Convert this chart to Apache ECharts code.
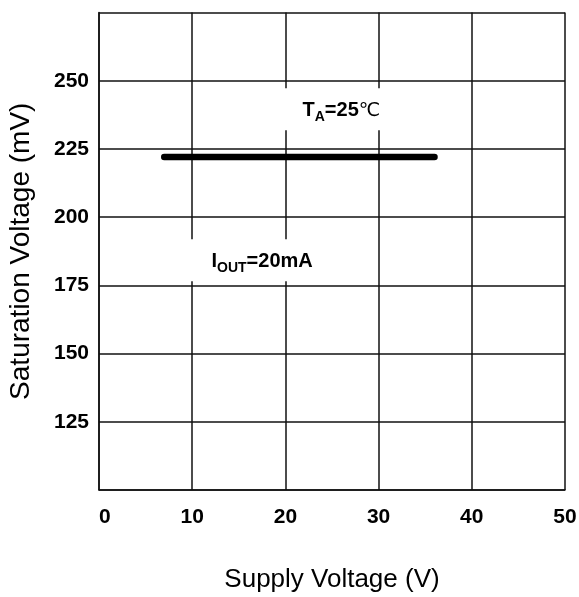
<!DOCTYPE html>
<html>
<head>
<meta charset="utf-8">
<script src="https://cdn.jsdelivr.net/npm/echarts@6/dist/echarts.min.js"></script>
<style>
  html, body { margin: 0; padding: 0; background: #fff; }
  #main { width: 579px; height: 597px; }
</style>
</head>
<body>
<div id="main"></div>
<script>
// saturation voltage vs supply voltage
var supplyV = [7, 36]
var satV = [222, 222]
// annotation anchors [x, y]
var taPos = [26.0, 239.5]
var ioutPos = [17.5, 184.2]
var yHidden = [100, 275]

var myChart = echarts.init(document.getElementById('main'))
var font = '"Liberation Sans", Arial, sans-serif'

var noteLabel = function (text) {
    return {
        show: true,
        position: 'inside',
        formatter: text,
        color: '#000',
        textBorderWidth: 0,
        backgroundColor: '#fff',
        padding: [12, 22, 10, 22],
        rich: {
            b: { fontFamily: font, fontWeight: 'bold', fontSize: 20, color: '#000', textBorderWidth: 0, verticalAlign: 'bottom' },
            s: { fontFamily: font, fontWeight: 'bold', fontSize: 14, color: '#000', textBorderWidth: 0, verticalAlign: 'bottom', padding: [0, 0, -4, 0] },
            c: { fontFamily: '"DejaVu Sans", sans-serif', fontSize: 19, color: '#000', textBorderWidth: 0, verticalAlign: 'bottom' }
        }
    }
}

myChart.setOption({
    animation: false,
    grid: { left: 99, right: 14, top: 12.5, bottom: 107, containLabel: false, outerBoundsMode: 'none' },
    xAxis: {
        type: 'value',
        min: 0, max: 50, interval: 10,
        name: 'Supply Voltage (V)',
        nameLocation: 'middle',
        nameGap: 77,
        nameTextStyle: { fontFamily: font, fontSize: 26, color: '#000' },
        axisLine: { show: true, onZero: false, lineStyle: { color: '#111', width: 1.5 } },
        axisTick: { show: false },
        axisLabel: {
            margin: 17, fontFamily: font, fontWeight: 'bold', fontSize: 21, color: '#000',
            alignMinLabel: 'left'
        },
        splitLine: { show: true, lineStyle: { color: '#111', width: 1.5 } }
    },
    yAxis: {
        type: 'value',
        min: 100, max: 275, interval: 25,
        name: 'Saturation Voltage (mV)',
        nameLocation: 'middle',
        nameGap: 64,
        nameTextStyle: { fontFamily: font, fontSize: 28, color: '#000' },
        axisLine: { show: true, lineStyle: { color: '#111', width: 1.5 } },
        axisTick: { show: false },
        axisLabel: {
            margin: 10, fontFamily: font, fontWeight: 'bold', fontSize: 21, color: '#000',
            formatter: function (v) { return yHidden.indexOf(v) >= 0 ? '' : String(v) }
        },
        splitLine: { show: true, lineStyle: { color: '#111', width: 1.5 } }
    },
    series: [
        {
            type: 'scatter',
            symbolSize: 0,
            silent: true,
            z: 5,
            itemStyle: { opacity: 1 },
            data: [
                { value: taPos, label: noteLabel('{b|T}{s|A}{b|=25}{c|℃}') },
                { value: ioutPos, label: noteLabel('{b|I}{s|OUT}{b|=20mA}') }
            ]
        },
        {
            type: 'line',
            showSymbol: false,
            z: 10,
            lineStyle: { color: '#000', width: 6.5, cap: 'round' },
            data: supplyV.map(function (x, i) { return [x, satV[i]] })
        }
    ]
})
</script>
</body>
</html>
